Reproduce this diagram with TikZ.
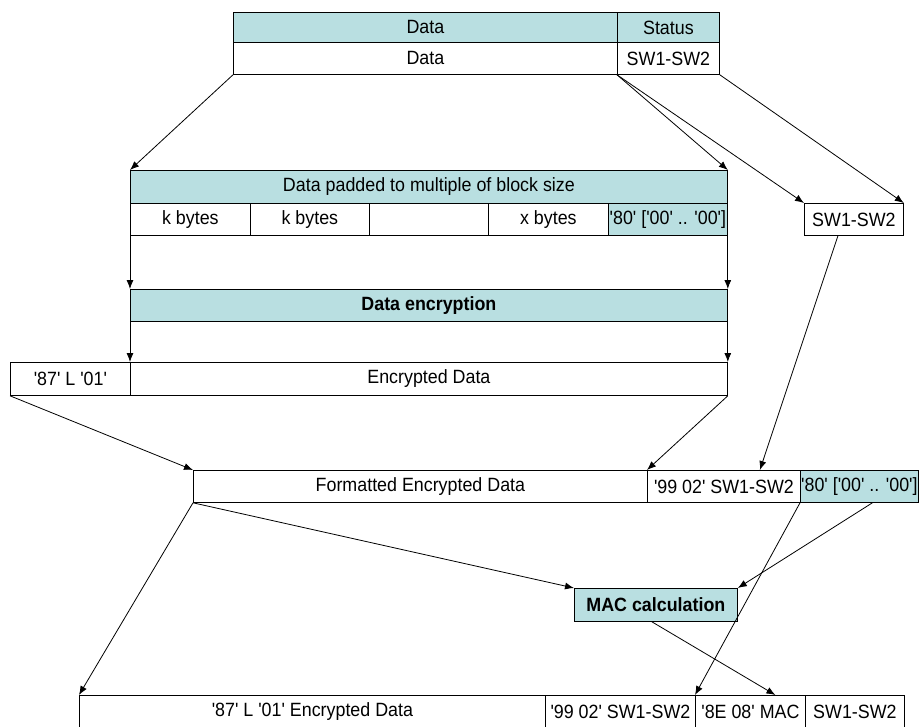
\documentclass[tikz,border=0pt]{standalone}
\usepackage{fontspec}
\setmainfont{Liberation Sans}[Ligatures=TeXOff, FakeStretch=0.93]
\usepackage{tikz}
\usetikzlibrary{arrows.meta}

\definecolor{cellblue}{RGB}{185,223,225}
\tikzset{
	cell/.style={draw, rectangle, inner sep=0pt, anchor=north west, line width=0.8pt},
	bluecell/.style={cell, fill=cellblue},
	flow/.style={line width=0.8pt, -{Latex[length=9pt,width=7pt]}}
}

\begin{document}
\begin{tikzpicture}[x=1pt, y=-1pt, font=\fontsize{19.2}{22}\selectfont]
		\useasboundingbox (0,0) rectangle (920,726);
%		\draw[help lines] (0,0) grid[step=50] (920,726);

		% response from the card
		\node[bluecell, minimum width=384pt, minimum height=30pt] (datahead) at (233,12) {Data};
		\node[bluecell, minimum width=102pt, minimum height=30pt] (stathead) at (617,12) {Status};
		\node[cell, minimum width=384pt, minimum height=32pt] (data) at (233,42) {Data};
		\node[cell, minimum width=102pt, minimum height=32pt] (status) at (617,42) {SW1-SW2};

		% padding
		\node[bluecell, minimum width=597pt, minimum height=33pt] (padhead) at (130,170) {Data padded to multiple of block size};
		\node[cell, minimum width=120pt, minimum height=32pt] (kbytes1) at (130,203) {k bytes};
		\node[cell, minimum width=119pt, minimum height=32pt] (kbytes2) at (250,203) {k bytes};
		\node[cell, minimum width=119pt, minimum height=32pt] (kbytes3) at (369,203) {};
		\node[cell, minimum width=120pt, minimum height=32pt] (xbytes) at (488,203) {x bytes};
		\node[bluecell, minimum width=119pt, minimum height=32pt] (padding) at (608,203) {'80' ['00' .. '00']};
		\node[cell, minimum width=99pt, minimum height=32pt] (sw) at (804,203) {SW1-SW2};

		% encryption
		\node[bluecell, minimum width=597pt, minimum height=32pt] (encrypt) at (130,289) {\textbf{Data encryption}};
		\node[cell, minimum width=120pt, minimum height=33pt] (tag) at (10,362) {'87' L '01'};
		\node[cell, minimum width=597pt, minimum height=33pt] (encdata) at (130,362) {Encrypted Data};

		% formatting
		\node[cell, minimum width=454pt, minimum height=32pt] (formatted) at (193,470) {Formatted Encrypted Data};
		\node[cell, minimum width=153pt, minimum height=32pt] (fmtsw) at (647,470) {'99 02' SW1-SW2};
		\node[bluecell, minimum width=118pt, minimum height=32pt] (macpad) at (800,470) {'80' ['00' .. '00']};

		\node[bluecell, minimum width=163pt, minimum height=33pt] (mac) at (574,588) {\textbf{MAC calculation}};

		% secured response
		\node[cell, minimum width=466pt, minimum height=32pt] (result) at (79,695) {'87' L '01' Encrypted Data};
		\node[cell, minimum width=150pt, minimum height=32pt] (ressw) at (545,695) {'99 02' SW1-SW2};
		\node[cell, minimum width=110pt, minimum height=32pt] (resmac) at (695,695) {'8E 08' MAC};
		\node[cell, minimum width=99pt, minimum height=32pt] (resstat) at (805,695) {SW1-SW2};

		\draw[flow] (data.south west) -- (padhead.north west);
		\draw[flow] (status.south west) -- (padhead.north east);
		\draw[flow] (status.south west) -- (sw.north west);
		\draw[flow] (status.south east) -- (sw.north east);
		\draw[flow] (kbytes1.south west) -- (encrypt.north west);
		\draw[flow] (padding.south east) -- (encrypt.north east);
		\draw[flow] (encrypt.south west) -- (encdata.north west);
		\draw[flow] (encrypt.south east) -- (encdata.north east);
		\draw[flow] (tag.south west) -- (formatted.north west);
		\draw[flow] (encdata.south east) -- (fmtsw.north west);
		\draw[flow] ([xshift=-16pt]sw.south) -- ([xshift=36pt]fmtsw.north);
		\draw[flow] (formatted.south west) -- (result.north west);
		\draw[flow] (formatted.south west) -- (mac.north west);
		\draw[flow] (macpad.south west) -- (resmac.north west);
		\draw[flow] ([xshift=13pt]macpad.south) -- (mac.north east);
		\draw[flow] ([xshift=-4pt]mac.south) -- ([xshift=25pt]resmac.north);
	\end{tikzpicture}
\end{document}
